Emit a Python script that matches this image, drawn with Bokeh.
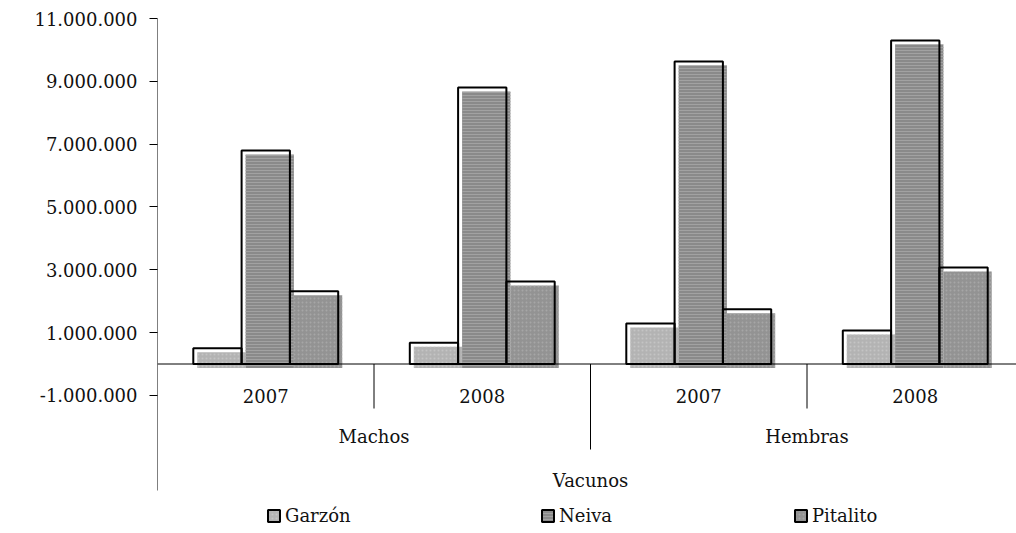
import numpy as np
from bokeh.plotting import figure
from bokeh.models import (Range1d, FixedTicker, CustomJSTickFormatter, Legend,
                          LegendItem, ColumnDataSource)
from bokeh.core.properties import value
from bokeh.embed import file_html
from bokeh.resources import INLINE

# ---------------- data ----------------
top_level = "Vacunos"
groups = ["Machos", "Machos", "Hembras", "Hembras"]
years = ["2007", "2008", "2007", "2008"]
series = ["Garzón", "Neiva", "Pitalito"]
garzon = [500000, 680000, 1290000, 1070000]
neiva = [6800000, 8800000, 9630000, 10300000]
pitalito = [2320000, 2630000, 1740000, 3070000]
y_ticks = [-1000000, 1000000, 3000000, 5000000, 7000000, 9000000, 11000000]

# ---------------- layout constants ----------------
FONT = "DejaVu Serif"
W, H = 1016, 533
LEFT, TOP = 157, 18
PX_PER_CAT = 216.5
ZERO_PX = 345.5                       # px from frame top to zero line
Y_MAX = 11000000
UPP = Y_MAX / ZERO_PX                 # data units per pixel (y)
FRAME_W = W - LEFT
FRAME_H = H - TOP
X_END = FRAME_W / PX_PER_CAT
Y_START = -(FRAME_H - ZERO_PX) * UPP


def below(px):
    return -px * UPP


p = figure(width=W, height=H, x_range=Range1d(0, X_END),
           y_range=Range1d(Y_START, Y_MAX), x_axis_type=None,
           output_backend="svg", toolbar_location=None,
           min_border_left=LEFT, min_border_top=TOP,
           min_border_right=0, min_border_bottom=0)
p.grid.visible = False
p.outline_line_color = None
p.background_fill_color = "white"
p.border_fill_color = "white"

ax = p.yaxis[0]
ax.ticker = FixedTicker(ticks=y_ticks)
ax.formatter = CustomJSTickFormatter(code="""
    var s = Math.abs(tick).toFixed(0).replace(/\\B(?=(\\d{3})+(?!\\d))/g, '.');
    return (tick < 0 ? '-' : '') + s;
""")
ax.axis_line_color = None
ax.major_tick_out = 8
ax.major_tick_in = 0
ax.minor_tick_out = 0
ax.minor_tick_in = 0
ax.major_tick_line_color = "black"
ax.major_label_text_font = FONT
ax.major_label_text_font_size = "18px"
ax.major_label_text_color = "#111111"
ax.major_label_standoff = 12

n = len(years)
centers = np.arange(n) + 0.5
bar_w = 48.3 / PX_PER_CAT
dx = 4 / PX_PER_CAT
dy = 4 * UPP

styles = [
    dict(fill_color="#b3b3b3", hatch_pattern="dot", hatch_color="#c4c4c4", hatch_scale=4, hatch_weight=1),
    dict(fill_color="#8a8a8a", hatch_pattern="horizontal_line", hatch_color="#a2a2a2", hatch_scale=3, hatch_weight=1),
    dict(fill_color="#939393", hatch_pattern="dot", hatch_color="#a6a6a6", hatch_scale=4, hatch_weight=1),
]

legend_x = [266 - LEFT, 540 - LEFT, 793 - LEFT]
for k, (name, vals) in enumerate(zip(series, [garzon, neiva, pitalito])):
    xs = centers + (k - 1) * bar_w
    vals = np.array(vals, dtype=float)
    src_sh = ColumnDataSource(dict(x=xs + dx, top=vals - dy, bottom=np.full(n, -dy)))
    src_bar = ColumnDataSource(dict(x=xs, top=vals, bottom=np.zeros(n)))
    sh = p.vbar(x="x", top="top", bottom="bottom", width=bar_w, source=src_sh,
                line_color=None, **styles[k])
    ol = p.vbar(x="x", top="top", bottom="bottom", width=bar_w, source=src_bar,
                fill_color=None, line_color="black", line_width=2)
    lg = Legend(items=[LegendItem(label=name, renderers=[sh, ol])],
                location=(legend_x[k], 7), orientation="horizontal",
                glyph_width=15, glyph_height=15, label_height=15,
                label_standoff=4, padding=0, margin=0, spacing=0,
                border_line_color=None, background_fill_alpha=0,
                label_text_font=FONT, label_text_font_size="18px",
                label_text_color="#111111")
    p.add_layout(lg)

# axes lines and category separators
seg_x0, seg_y0, seg_x1, seg_y1 = [0], [below(126.5)], [0], [Y_MAX]
seg_x0.append(0); seg_y0.append(0); seg_x1.append(n); seg_y1.append(0)
for i in range(1, n + 1):
    if i == n:
        length = 126.5
    elif groups[i] != groups[i - 1]:
        length = 85.5
    else:
        length = 44.5
    seg_x0.append(i); seg_x1.append(i); seg_y0.append(0); seg_y1.append(below(length))
p.segment(x0=seg_x0, y0=seg_y0, x1=seg_x1, y1=seg_y1, line_color="black", line_width=1)

# category labels
p.text(x=centers, y=[below(31.5)] * n, text=years, text_font=value(FONT),
       text_font_size="18px", text_align="center", text_baseline="middle",
       text_color="#111111")
grp_names, grp_x = [], []
for g in dict.fromkeys(groups):
    idx = [i for i, gg in enumerate(groups) if gg == g]
    grp_names.append(g)
    grp_x.append(float(np.mean(centers[idx])))
p.text(x=grp_x, y=[below(72.5)] * len(grp_x), text=grp_names, text_font=value(FONT),
       text_font_size="18px", text_align="center", text_baseline="middle",
       text_color="#111111")
p.text(x=[n / 2], y=[below(116.5)], text=[top_level], text_font=value(FONT),
       text_font_size="18px", text_align="center", text_baseline="middle",
       text_color="#111111")

open("out.html", "w").write(file_html(p, INLINE))
